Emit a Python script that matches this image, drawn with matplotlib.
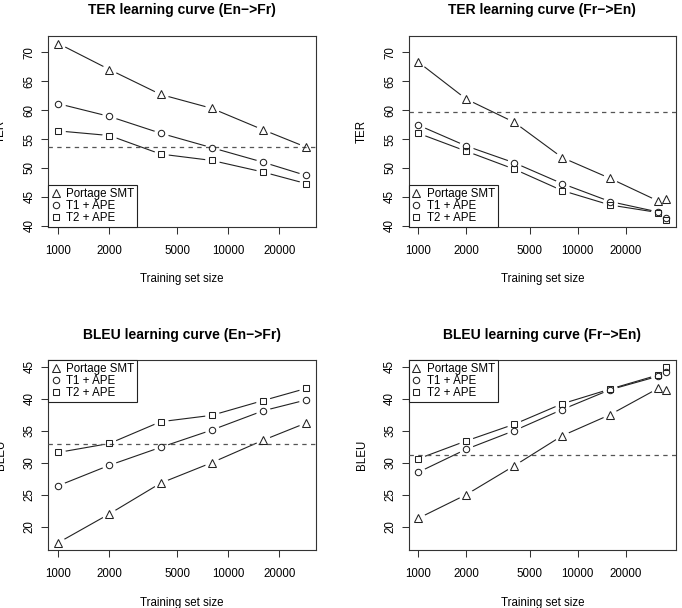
import numpy as np
import matplotlib.pyplot as plt
from matplotlib.lines import Line2D

plt.rcParams['font.family'] = ['Liberation Sans', 'DejaVu Sans']

## training set sizes
sizes_enfr = [1000, 2000, 4000, 8000, 16000, 28700]
sizes_fren = [1000, 2000, 4000, 8000, 16000, 32000]
full_fren = 35800   # extra unconnected point (Fr->En)

series = ['Portage SMT', 'T1 + APE', 'T2 + APE']
markers = ['^', 'o', 's']
msizes = [5.6, 4.6, 4.4]

## TER
ter_enfr = {
    'Portage SMT': [71.5, 67.0, 62.7, 60.3, 56.6, 53.6],
    'T1 + APE':    [61.1, 58.9, 56.0, 53.5, 51.0, 48.7],
    'T2 + APE':    [56.4, 55.6, 52.4, 51.3, 49.3, 47.3],
}
ter_enfr_base = 53.6
ter_fren = {
    'Portage SMT': [68.3, 61.9, 57.9, 51.8, 48.2, 44.3],
    'T1 + APE':    [57.4, 53.8, 50.9, 47.3, 44.2, 42.4],
    'T2 + APE':    [56.0, 52.9, 49.8, 46.1, 43.6, 42.3],
}
ter_fren_full = [44.6, 41.4, 41.0]
ter_fren_base = 59.6

## BLEU
bleu_enfr = {
    'Portage SMT': [17.5, 22.0, 26.8, 30.0, 33.5, 36.2],
    'T1 + APE':    [26.4, 29.6, 32.4, 35.1, 38.1, 39.8],
    'T2 + APE':    [31.6, 33.0, 36.4, 37.4, 39.7, 41.6],
}
bleu_enfr_base = 32.9
bleu_fren = {
    'Portage SMT': [21.3, 25.0, 29.5, 34.2, 37.5, 41.6],
    'T1 + APE':    [28.5, 32.1, 35.0, 38.3, 41.4, 43.5],
    'T2 + APE':    [30.6, 33.4, 36.0, 39.2, 41.5, 43.7],
}
bleu_fren_full = [41.4, 44.2, 44.9]
bleu_fren_base = 31.15

FS = 8.3

fig = plt.figure(figsize=(6.82, 6.08), dpi=100)
W, H = 682.0, 608.0

def box(l, t, r, b):
    return [l / W, 1 - b / H, (r - l) / W, (b - t) / H]

panels = [
    (box(48.3, 36, 316, 226.7), 'TER learning curve (En\u2212>Fr)', 'TER', sizes_enfr, ter_enfr, None, ter_enfr_base,
     (873, 32830), (39.85, 72.8), [40, 45, 50, 55, 60, 65, 70], 'lower left'),
    (box(408.7, 36, 676, 226.7), 'TER learning curve (Fr\u2212>En)', 'TER', sizes_fren, ter_fren, ter_fren_full, ter_fren_base,
     (871, 41500), (39.85, 72.8), [40, 45, 50, 55, 60, 65, 70], 'lower left'),
    (box(48.3, 360.3, 316, 550), 'BLEU learning curve (En\u2212>Fr)', 'BLEU', sizes_enfr, bleu_enfr, None, bleu_enfr_base,
     (873, 32830), (16.35, 46.0), [20, 25, 30, 35, 40, 45], 'upper left'),
    (box(408.7, 360.3, 676, 550), 'BLEU learning curve (Fr\u2212>En)', 'BLEU', sizes_fren, bleu_fren, bleu_fren_full, bleu_fren_base,
     (871, 41500), (16.35, 46.0), [20, 25, 30, 35, 40, 45], 'upper left'),
]

for rect, title, ylab, xs, data, full, base, xlim, ylim, yticks, loc in panels:
    ax = fig.add_axes(rect)
    ax.set_xscale('log')
    # lines
    for s in series:
        ax.plot(xs, data[s], color='#222222', lw=0.8, zorder=1)
    # white gaps around points (type="b" look)
    for s in series:
        ax.plot(xs, data[s], ls='none', marker='o', ms=9.5, mfc='white', mec='white', zorder=2)
    ax.axhline(base, color='#555555', lw=0.9, ls=(0, (3.5, 3.5)), zorder=3)
    for s, m, ms in zip(series, markers, msizes):
        ax.plot(xs, data[s], ls='none', marker=m, ms=ms, mfc='none', mec='#222222', mew=0.75, zorder=4)
    if full is not None:
        for v, m, ms in zip(full, markers, msizes):
            ax.plot([full_fren], [v], ls='none', marker=m, ms=ms, mfc='none', mec='#222222', mew=0.75, zorder=4)

    ax.set_xlim(*xlim)
    ax.set_ylim(*ylim)
    ax.set_xticks([1000, 2000, 5000, 10000, 20000])
    ax.set_xticklabels(['1000', '2000', '5000', '10000', '20000'])
    ax.xaxis.set_minor_locator(plt.NullLocator())
    ax.set_yticks(yticks)
    ax.tick_params(direction='out', length=5, width=0.75, color='#333333', labelsize=FS)
    ax.tick_params(axis='x', pad=8)
    ax.tick_params(axis='y', pad=4)
    plt.setp(ax.get_yticklabels(), rotation=90, va='center')
    for sp in ax.spines.values():
        sp.set_linewidth(0.8)
        sp.set_color('#333333')

    ax.set_title(title, fontsize=10, fontweight='bold', pad=15.5)
    ax.set_xlabel('Training set size', fontsize=FS, labelpad=12)
    ax.set_ylabel(ylab, fontsize=FS, labelpad=12)

    handles = [Line2D([], [], ls='none', marker=m, ms=ms, mfc='none', mec='#222222', mew=0.75)
               for m, ms in zip(markers, msizes)]
    leg = ax.legend(handles, series, loc=loc, fontsize=FS, frameon=True, fancybox=False,
                    borderaxespad=0, borderpad=0.25, labelspacing=0.0, handlelength=0.8,
                    handletextpad=0.5, framealpha=1)
    leg.get_frame().set_edgecolor('#222222')
    leg.get_frame().set_linewidth(0.8)
    leg.set_zorder(5)

fig.savefig('out.png', dpi=100)
